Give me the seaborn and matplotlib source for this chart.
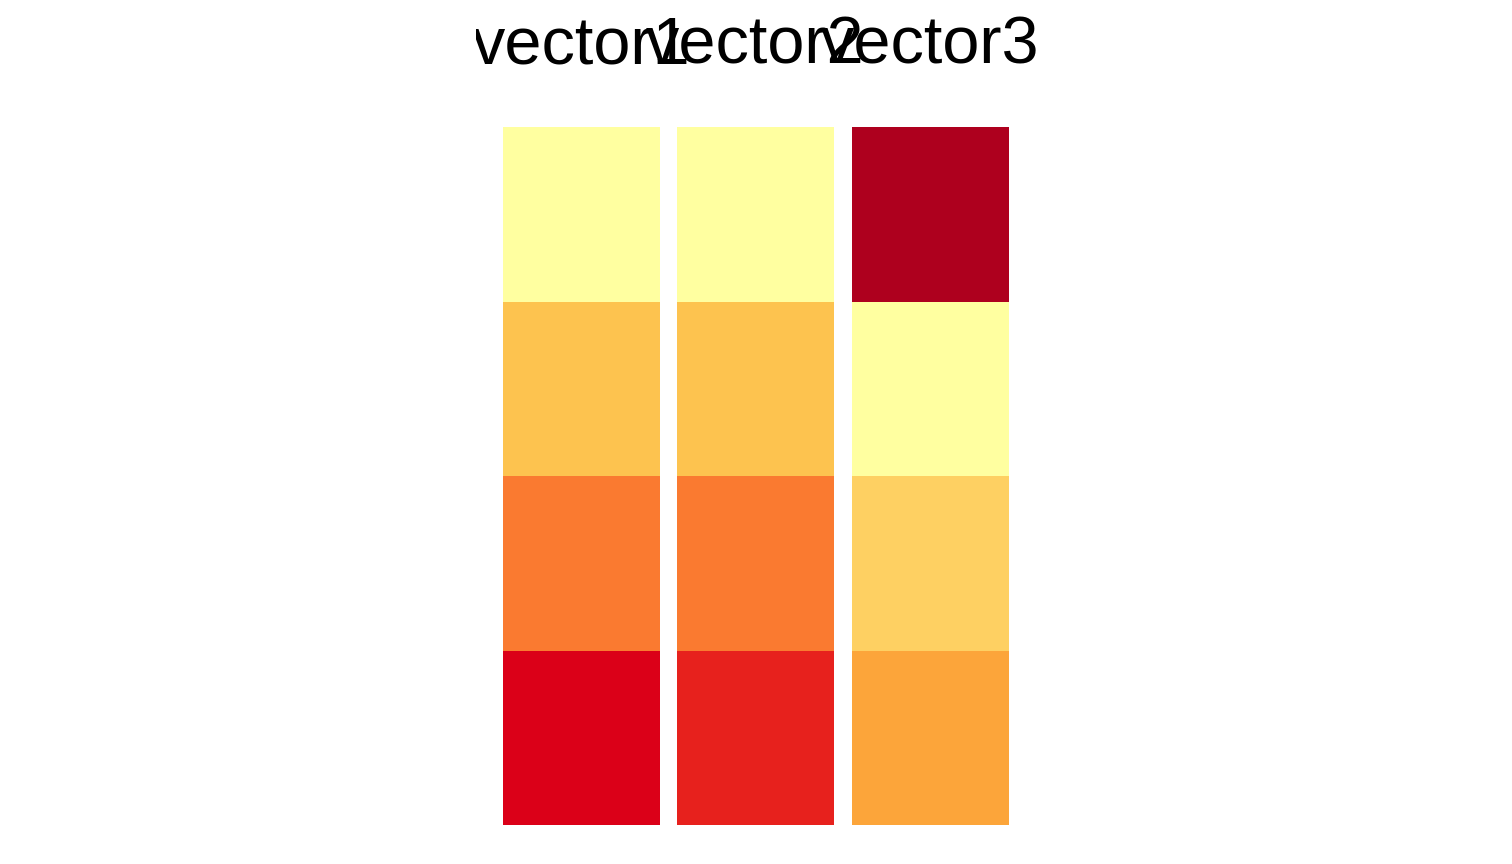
import numpy as np
import pandas as pd
import matplotlib
matplotlib.use("Agg")
import matplotlib.pyplot as plt
import seaborn as sns
from matplotlib.colors import LinearSegmentedColormap
from matplotlib.transforms import Bbox, TransformedBbox

# ---- data ----
column_labels = ["vector1", "vector2", "vector3"]
vector1 = [1.0, 2.4, 3.2, 4.1]
vector2 = [1.0, 2.4, 3.2, 3.9]
vector3 = [4.5, 1.0, 2.1, 2.7]
series = [vector1, vector2, vector3]

# colour scale (value -> colour anchors)
scale_values = [1.0, 2.1, 2.4, 2.7, 3.2, 3.9, 4.1, 4.5]
scale_colors = ["#FFFFA0", "#FED062", "#FDC34F", "#FCA53A",
                "#FA7A30", "#E8231D", "#DB0018", "#AE001E"]

vmin, vmax = min(scale_values), max(scale_values)
nodes = [(v - vmin) / (vmax - vmin) for v in scale_values]
cmap = LinearSegmentedColormap.from_list("heat", list(zip(nodes, scale_colors)))

sns.set_theme(style="white")
plt.rcParams["font.family"] = ["Liberation Sans", "DejaVu Sans"]

W, H = 1512, 864
fig = plt.figure(figsize=(W / 100, H / 100), dpi=100)
fig.patch.set_facecolor("white")

col_left = [503, 677, 852]
col_w = 157
top, bottom = 127, 825

clip = TransformedBbox(Bbox.from_extents(476 / W, 0, 1044 / W, 1), fig.transFigure)

for i, (lab, vals) in enumerate(zip(column_labels, series)):
    ax = fig.add_axes([col_left[i] / W, (H - bottom) / H, col_w / W, (bottom - top) / H])
    df = pd.DataFrame({lab: vals})
    sns.heatmap(df, ax=ax, cmap=cmap, vmin=vmin, vmax=vmax, cbar=False,
                xticklabels=False, yticklabels=False, linewidths=0)
    ax.set_axis_off()
    cx = (col_left[i] + col_w / 2) / W
    t = fig.text(cx, (H - 64) / H, lab, ha="center", va="baseline",
                 fontsize=48, color="black")
    t.set_clip_box(clip)
    t.set_clip_on(True)

fig.savefig("out.png", dpi=100, facecolor="white")
